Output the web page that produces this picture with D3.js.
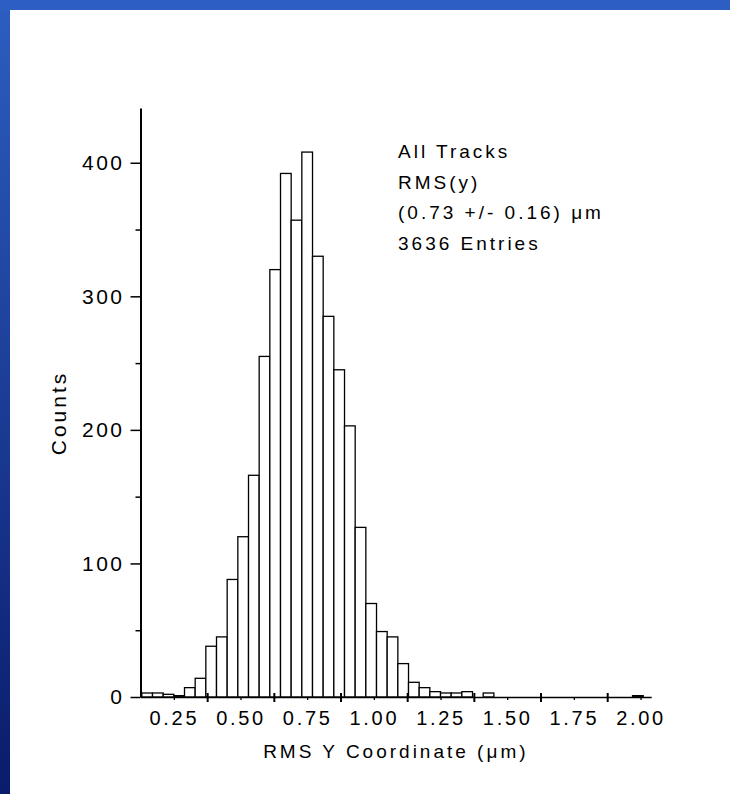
<!DOCTYPE html>
<html>
<head>
<meta charset="utf-8">
<script src="https://cdn.jsdelivr.net/npm/d3@7/dist/d3.min.js"></script>
<style>
body { margin: 0; background: #fff; }
text { font-family: "Liberation Sans", Arial, sans-serif; fill: #000; }
</style>
</head>
<body>
<svg id="chart"></svg>
<script>
// histogram bins (µm): left edge of first bin and bin width
var binStart = 0.13,
    binWidth = 0.04;
// counts per bin
var counts = [3, 3, 2, 1, 7, 14, 38, 45, 88, 120, 166, 255, 320, 392, 357, 408,
    330, 285, 245, 203, 127, 70, 49, 45, 25, 11, 7, 4, 3, 3, 4, 0, 3,
    0, 0, 0, 0, 0, 0, 0, 0, 0, 0, 0, 0, 0, 1];

var xLabelTicks = [0.25, 0.50, 0.75, 1.00, 1.25, 1.50, 1.75, 2.00];
var xMajorTicks = [0.375, 0.625, 0.875, 1.125, 1.375, 1.625, 1.875];
var yTicks = [0, 100, 200, 300, 400];
var yMinorTicks = [50, 150, 250, 350];
var noteLines = ["All Tracks", "RMS(y)", "(0.73 +/- 0.16) \u03bcm", "3636 Entries"];

var W = 730, H = 794;
var svg = d3.select("#chart").attr("width", W).attr("height", H);

// blue slide frame
var grad = svg.append("defs").append("linearGradient")
    .attr("id", "side").attr("x1", 0).attr("y1", 0).attr("x2", 0).attr("y2", 1);
grad.append("stop").attr("offset", "0%").attr("stop-color", "#2d5ec1");
grad.append("stop").attr("offset", "100%").attr("stop-color", "#0a1c6b");
svg.append("rect").attr("x", 0).attr("y", 0).attr("width", 10).attr("height", H)
    .attr("fill", "url(#side)");
svg.append("rect").attr("x", 0).attr("y", 0).attr("width", W).attr("height", 10)
    .attr("fill", "#2d5ec1");

// scales
var x = d3.scaleLinear().domain([0.125, 2.04]).range([140.5, 651.2]);
var y = d3.scaleLinear().domain([0, 441]).range([697, 108]);

var bins = counts.map(function(c, i) {
    return {x0: binStart + i * binWidth, x1: binStart + (i + 1) * binWidth, n: c};
}).filter(function(d) { return d.n > 0; });

// bars
svg.append("g").selectAll("rect")
    .data(bins)
    .enter().append("rect")
    .attr("x", function(d) { return x(d.x0); })
    .attr("width", function(d) { return x(d.x1) - x(d.x0); })
    .attr("y", function(d) { return y(d.n); })
    .attr("height", function(d) { return y(0) - y(d.n); })
    .attr("fill", "#fff")
    .attr("stroke", "#000")
    .attr("stroke-width", 1.3);

// y axis
var yAxisG = svg.append("g")
    .attr("transform", "translate(" + x(0.125) + ",0)")
    .call(d3.axisLeft(y).tickValues(yTicks).tickSize(10).tickSizeOuter(0).tickPadding(5));
yAxisG.select(".domain").attr("stroke-width", 2);
yAxisG.selectAll(".tick line").attr("stroke-width", 1.5);
yAxisG.selectAll(".tick text")
    .style("font-size", "21px").style("letter-spacing", "2.5px")
    .attr("x", -16);
svg.append("g")
    .attr("transform", "translate(" + x(0.125) + ",0)")
    .call(d3.axisLeft(y).tickValues(yMinorTicks).tickSize(5).tickFormat(""))
    .call(function(g) { g.select(".domain").remove(); })
    .selectAll(".tick line").attr("stroke-width", 1.5);

// x axis: labels with minor ticks
var xAxisG = svg.append("g")
    .attr("transform", "translate(0," + y(0) + ")")
    .call(d3.axisBottom(x).tickValues(xLabelTicks).tickSize(3).tickSizeOuter(0)
        .tickPadding(11).tickFormat(d3.format(".2f")));
xAxisG.select(".domain").attr("stroke-width", 1.6);
xAxisG.selectAll(".tick line").attr("stroke-width", 1.3);
xAxisG.selectAll(".tick text")
    .style("font-size", "20px").style("letter-spacing", "2.7px");

// x axis: major ticks crossing the axis line
svg.append("g")
    .attr("transform", "translate(0," + y(0) + ")")
    .call(d3.axisBottom(x).tickValues(xMajorTicks).tickSize(5).tickFormat(""))
    .call(function(g) { g.select(".domain").remove(); })
    .selectAll(".tick line").attr("y1", -4).attr("stroke-width", 2);

// axis titles
svg.append("text")
    .attr("x", (x(0.125) + x(2.04)) / 2)
    .attr("y", 758)
    .attr("text-anchor", "middle")
    .style("font-size", "19px").style("letter-spacing", "3px")
    .text("RMS Y Coordinate (\u03bcm)");

svg.append("text")
    .attr("transform", "translate(66,413) rotate(-90)")
    .attr("text-anchor", "middle")
    .style("font-size", "21px").style("letter-spacing", "3px")
    .text("Counts");

// annotation
svg.append("g").selectAll("text")
    .data(noteLines)
    .enter().append("text")
    .attr("x", 398)
    .attr("y", function(d, i) { return 158 + i * 30.5; })
    .style("font-size", "19px").style("letter-spacing", "3px")
    .text(function(d) { return d; });
</script>
</body>
</html>
